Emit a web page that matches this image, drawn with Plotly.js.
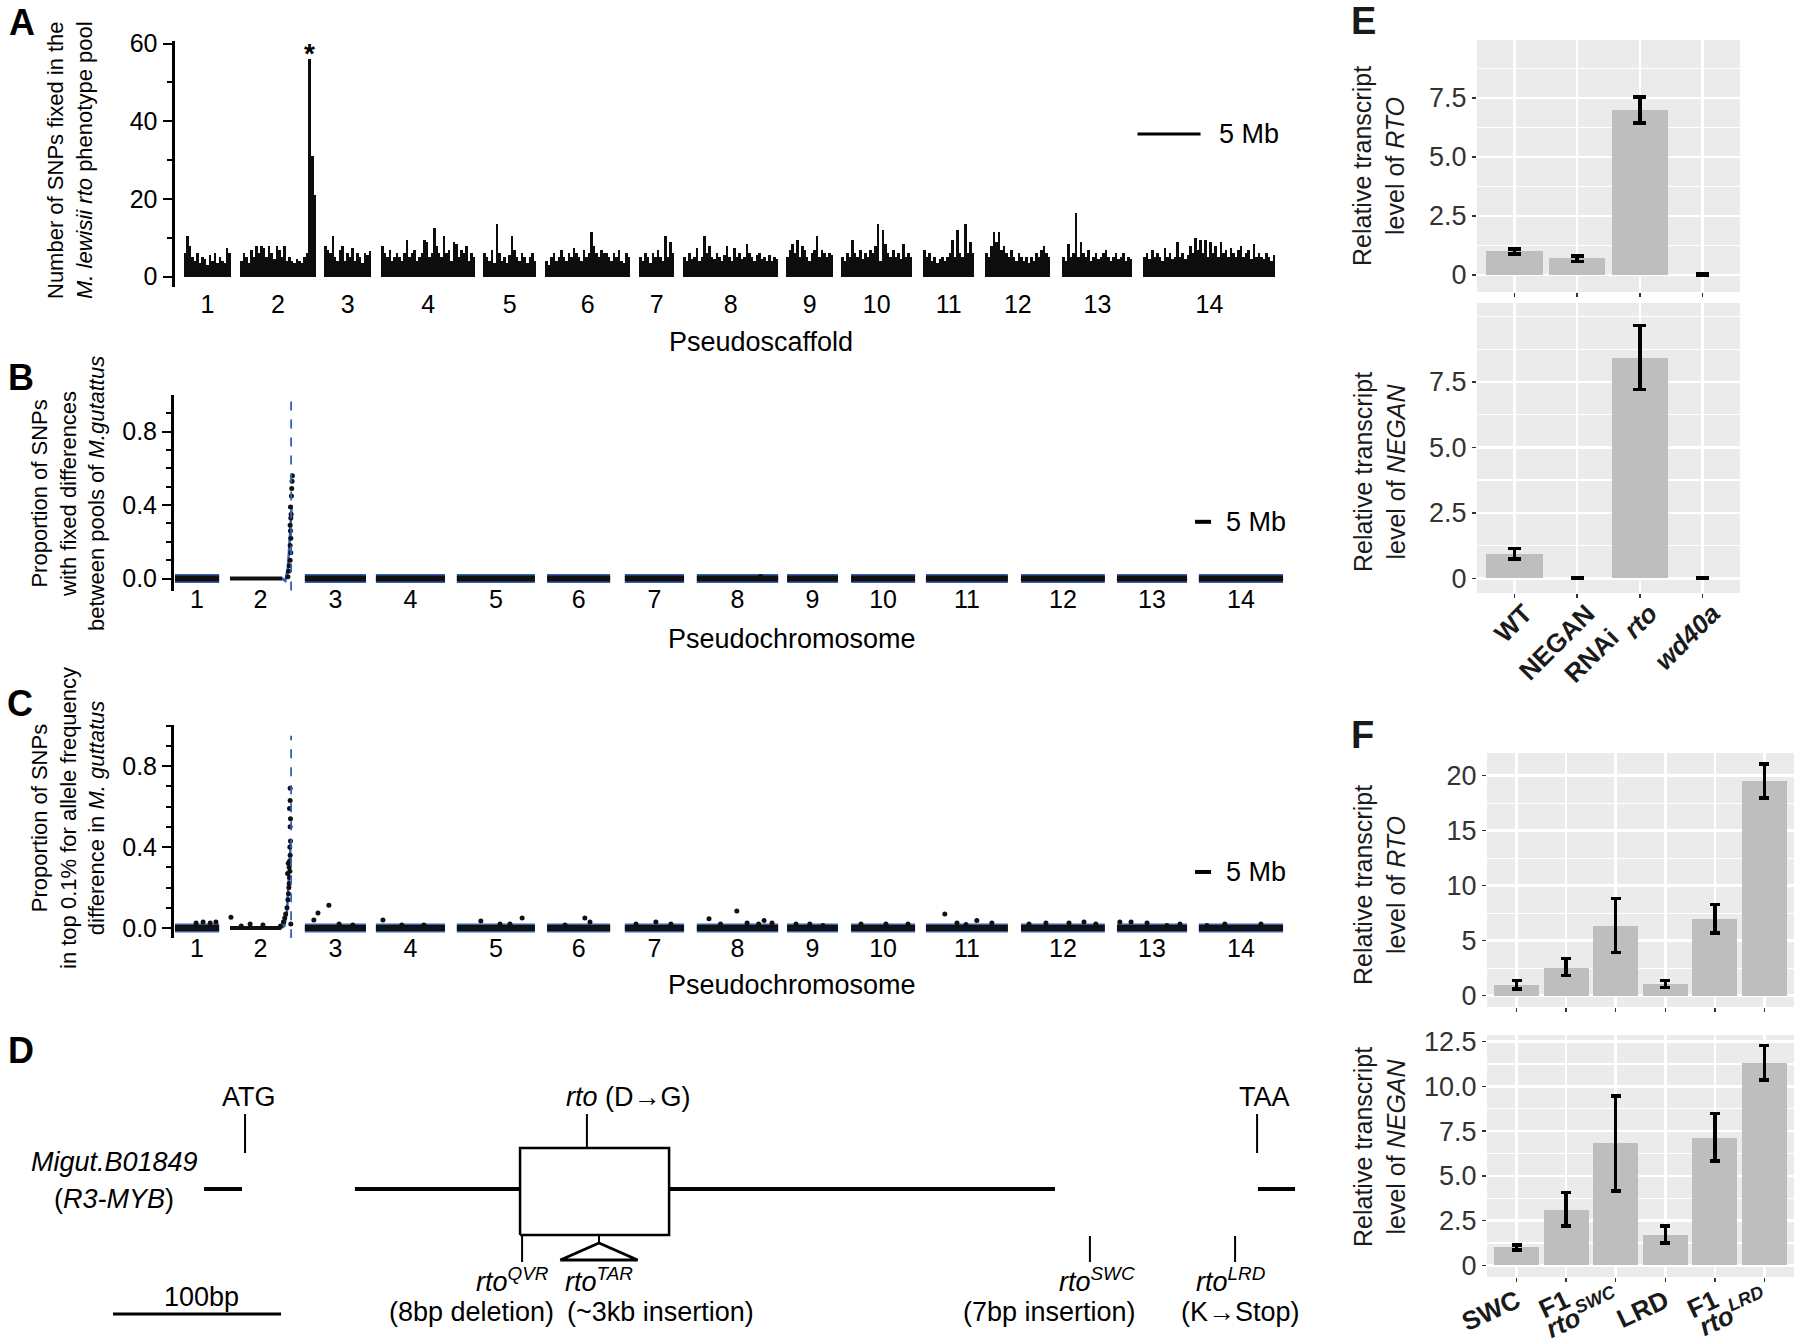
<!DOCTYPE html>
<html><head><meta charset="utf-8">
<script src="https://cdn.plot.ly/plotly-3.0.1.min.js"></script>
<style>html,body{margin:0;padding:0;background:#fff}#fig{width:1800px;height:1343px}</style>
</head><body><div id="fig"></div>
<script>
// ================= DATA =================
// ---- Panel A: SNPs fixed per window, by pseudoscaffold (x in Mb) ----
const chromLabels = ['1','2','3','4','5','6','7','8','9','10','11','12','13','14'];
const chromStartA = [0.75, 5.20, 11.87, 16.39, 24.48, 29.40, 36.87, 40.36, 48.53, 52.90, 59.40, 64.33, 70.44, 76.87];
const chromEndA   = [4.48, 11.23, 15.60, 23.85, 28.69, 36.15, 39.64, 47.90, 52.26, 58.53, 63.45, 69.48, 76.00, 87.34];
const snpChr1  = [6, 10.5, 8, 5, 4, 6, 3.5, 5, 4.5, 3, 5.5, 4, 6, 3.5, 5, 4, 3.5, 7.5, 6];
const snpChr2  = [4, 6, 5, 3.5, 7, 5, 8, 6, 8, 7.5, 5, 8, 6, 4.5, 8, 7, 5, 8, 4, 5, 4, 3.5, 4.5, 4, 3.5, 5, 6, 56, 31, 21];
const snpChr3  = [8, 7, 6, 10.5, 5, 4, 7, 8, 4, 6, 5, 7.5, 4, 6, 5, 3.5, 6, 5.5, 6.5];
const snpChr4  = [8, 6, 5, 7, 4, 5, 6, 5, 4, 6, 9.5, 5, 6, 7, 4, 5, 6, 9.5, 9, 5, 6, 12.5, 8, 6, 5, 10.5, 6, 7, 4, 9, 8.5, 5, 7, 6, 8, 4, 6, 5];
const snpChr5  = [6, 5, 4, 7, 3.5, 13.5, 6, 4, 5, 3.5, 5.5, 10.5, 7, 5, 4, 6, 5, 3.5, 5, 6, 4];
const snpChr6  = [4, 3, 5, 6, 4, 5, 7, 5, 4, 6, 5, 7.5, 6, 5, 4, 7, 5, 6, 11.5, 8, 6, 5, 7, 6, 6, 5, 4, 6, 5, 7, 4, 3.5, 6, 5];
const snpChr7  = [5, 4, 6, 5, 3.5, 6, 5, 7, 5, 4, 10.5, 5, 9, 6];
const snpChr8  = [5, 4, 6, 4.5, 5, 7.5, 4, 5, 10.5, 6, 8, 5, 4.5, 6, 5, 4, 5.5, 8, 5, 4, 7.5, 5, 6, 4.5, 5, 8.5, 6, 5, 4, 5.5, 6, 4.5, 5, 4, 5.5, 4, 5, 4.5];
const snpChr9  = [5, 7, 8.5, 6, 9.5, 5, 8, 7, 5, 4, 6, 7, 10.5, 5, 7, 6, 5, 6, 5.5];
const snpChr10 = [5, 4, 6, 5, 9.5, 6, 5, 7, 4.5, 6, 5, 7, 6, 8, 13.5, 4, 12, 8.5, 6, 5, 7, 5, 6, 4.5, 8.5, 5, 6, 5];
const snpChr11 = [7, 5, 6, 4, 5, 3.5, 4.5, 5, 4, 5, 6, 9.5, 5, 12, 6, 5, 13.5, 6, 9, 6];
const snpChr12 = [6, 5, 8, 11.5, 9, 11.5, 7, 8, 6, 5, 7, 5, 4, 6, 5, 4, 5, 3.5, 5, 4, 6, 5, 7, 8, 6, 5];
const snpChr13 = [5, 4, 8.5, 5, 6, 16.5, 5, 9, 6, 5, 7, 4, 5, 6, 4.5, 5, 6, 7, 5, 4, 5, 6, 4.5, 5, 6, 4, 5, 4.5];
const snpChr14 = [5, 6, 4.5, 7, 5, 6, 5, 4, 7.5, 5, 6, 4.5, 5, 9, 5, 6, 4.5, 5.5, 8, 6, 10, 7, 9.5, 6, 9.5, 5, 9, 6, 8, 5, 9, 6, 7, 5, 7.5, 6, 5, 7, 8, 5, 6, 7, 4.5, 8.5, 5, 6, 5, 4.5, 6, 5, 4, 5.5];

// ---- Panels B & C: pseudochromosome extents (Mb) ----
const chromStartBC = [0.3, 17.5, 40.9, 63.1, 88.4, 116.6, 140.9, 163.4, 191.6, 211.6, 235.0, 264.7, 294.7, 320.3];
const chromEndBC   = [14.1, 36.6, 60.0, 84.7, 112.8, 136.3, 159.4, 188.8, 207.5, 231.6, 260.6, 290.9, 316.6, 346.6];
const rtoLocusMb = 36.6;
// Panel B: non-zero window proportions
const bPtsX = [35.6, 35.8, 36.0, 36.3, 36.5, 36.3, 36.5, 36.4, 36.3, 36.5, 36.6, 36.4, 36.7, 36.8, 36.9, 37.0, 183.3];
const bPtsY = [0.01, 0.04, 0.07, 0.10, 0.14, 0.18, 0.22, 0.26, 0.29, 0.33, 0.35, 0.39, 0.45, 0.49, 0.53, 0.56, 0.012];
const bFitChr2X = [17.5, 33.8, 34.8, 35.6, 36.2, 36.8];
const bFitChr2Y = [0, 0, -0.012, 0.06, 0.22, 0.40];
// Panel C: non-zero window proportions
const cPtsX = [6.9, 9.1, 11.3, 13.1, 17.8, 21.0, 23.8, 27.8,
  33.3, 34.2, 34.6, 34.9, 35.3, 35.6, 35.8, 35.9, 36.0, 36.1, 36.2, 36.0, 36.1, 36.3, 36.2, 36.4, 36.3, 36.4, 36.1, 36.3, 36.3, 36.5, 35.5, 35.7,
  43.7, 45.0, 48.4, 51.6, 55.9, 65.3, 71.2, 78.1, 95.9, 101.9, 105.0, 108.8, 122.2, 128.4, 130.0, 144.4, 150.6, 155.3,
  167.2, 170.8, 175.9, 179.1, 182.7, 184.4, 186.9, 194.4, 198.7, 202.8, 214.7, 222.5, 229.4,
  240.9, 244.7, 247.5, 250.9, 255.6, 267.2, 272.5, 279.7, 284.4, 288.1, 295.6, 299.1, 304.1, 310.3, 314.4, 322.8, 328.4, 339.7];
const cPtsY = [0.025, 0.03, 0.025, 0.03, 0.054, 0.01, 0.02, 0.015,
  0.01, 0.03, 0.05, 0.07, 0.10, 0.14, 0.17, 0.20, 0.22, 0.25, 0.28, 0.30, 0.33, 0.36, 0.40, 0.43, 0.50, 0.54, 0.59, 0.63, 0.69, 0.02, 0.27, 0.32,
  0.04, 0.074, 0.113, 0.02, 0.015, 0.04, 0.015, 0.015, 0.035, 0.02, 0.02, 0.05, 0.015, 0.05, 0.03, 0.02, 0.03, 0.02,
  0.046, 0.02, 0.084, 0.025, 0.02, 0.038, 0.025, 0.02, 0.02, 0.013, 0.02, 0.02, 0.02,
  0.07, 0.025, 0.018, 0.038, 0.025, 0.02, 0.025, 0.025, 0.03, 0.02, 0.03, 0.03, 0.025, 0.013, 0.02, 0.013, 0.02, 0.02];
const cFitChr2X = [17.5, 33.5, 34.5, 35.3, 35.9, 36.5];
const cFitChr2Y = [0, 0, 0.01, 0.08, 0.25, 0.43];

// ---- Panel D: gene model of Migut.B01849 (bp) ----
const geneSegStart = [54.2, 144.0, 331.0, 681.5];
const geneSegEnd   = [76.8, 242.3, 560.7, 703.6];
const exonBox = [242.3, 331.0];
const atgPos = 78.6, taaPos = 681.0, dgPos = 282.1;
const mutLabels = ['<i>rto<sup>QVR</sup></i>', '<i>rto<sup>TAR</sup></i>', '<i>rto<sup>SWC</sup></i>', '<i>rto<sup>LRD</sup></i>'];
const mutPos    = [243.5, 289.3, 581.5, 667.9];
const mutNotes  = ['(8bp deletion)', '(~3kb insertion)', '(7bp insertion)', '(K<b>→</b>Stop)'];

// ---- Panel E ----
const catE = ['WT', 'NEGAN<br>RNAi', '<i>rto</i>', '<i>wd40a</i>'];
const rtoE = [1.0, 0.70, 7.0, 0.02];
const rtoELow = [0.90, 0.58, 6.45, 0.0];
const rtoEHigh = [1.10, 0.80, 7.55, 0.04];
const negE = [0.93, 0.02, 8.42, 0.02];
const negELow = [0.74, 0.0, 7.2, 0.0];
const negEHigh = [1.14, 0.04, 9.65, 0.04];

// ---- Panel F ----
const catF = ['SWC', 'F1', '<i>rto<sup>SWC</sup></i>', 'LRD', 'F1', '<i>rto<sup>LRD</sup></i>'];
const rtoF = [1.0, 2.55, 6.36, 1.06, 6.97, 19.5];
const rtoFLow = [0.62, 1.85, 3.94, 0.76, 5.70, 17.95];
const rtoFHigh = [1.36, 3.40, 8.82, 1.36, 8.30, 21.04];
const negF = [1.0, 3.09, 6.82, 1.69, 7.13, 11.28];
const negFLow = [0.85, 2.20, 4.15, 1.26, 5.83, 10.35];
const negFHigh = [1.15, 4.06, 9.47, 2.21, 8.49, 12.27];

// ================= BUILD =================
const FONT = 'Liberation Sans, Arial, Helvetica, sans-serif';
const W = 1800, H = 1343;
const px = x => x / W, py = y => 1 - y / H;
const traces = [];

// Panel A bars
const snpA = [snpChr1, snpChr2, snpChr3, snpChr4, snpChr5, snpChr6, snpChr7, snpChr8, snpChr9, snpChr10, snpChr11, snpChr12, snpChr13, snpChr14];
const barX = [], barY = [], barW = [];
let peakX = 0, peakY = -1;
snpA.forEach((vals, k) => {
  const w = (chromEndA[k] - chromStartA[k]) / vals.length;
  vals.forEach((v, i) => {
    const xc = chromStartA[k] + (i + 0.5) * w;
    barX.push(xc); barY.push(v); barW.push(w);
    if (v > peakY) { peakY = v; peakX = xc; }
  });
});
const centersA = chromStartA.map((s, k) => (s + chromEndA[k]) / 2);
traces.push({type: 'bar', x: barX, y: barY, width: barW, xaxis: 'x', yaxis: 'y',
  marker: {color: '#0d0d0d', line: {width: 0}}, hoverinfo: 'skip'});
traces.push({type: 'scatter', mode: 'lines', x: [76.4, 81.4], y: [36.7, 36.7], xaxis: 'x', yaxis: 'y',
  line: {color: '#000', width: 3}, hoverinfo: 'skip'});

// Panels B and C
const centersBC = chromStartBC.map((s, k) => (s + chromEndBC[k]) / 2);
function bandXY(skip) {
  const x = [], y = [];
  chromStartBC.forEach((s, k) => { if (k === skip) return; x.push(s, chromEndBC[k], null); y.push(0, 0, null); });
  return {x, y};
}
const BLUE = '#3560b8';
function addBC(xa, ya, fitX, fitY, ptsX, ptsY, dashTop, dashBot, scaleY) {
  const band = bandXY(1);
  traces.push({type: 'scatter', mode: 'lines', x: band.x, y: band.y, xaxis: xa, yaxis: ya, line: {color: BLUE, width: 9}, hoverinfo: 'skip'});
  traces.push({type: 'scatter', mode: 'lines', x: band.x, y: band.y, xaxis: xa, yaxis: ya, line: {color: '#111', width: 6}, hoverinfo: 'skip'});
  traces.push({type: 'scatter', mode: 'lines', x: fitX, y: fitY, xaxis: xa, yaxis: ya, line: {color: BLUE, width: 2.5}, hoverinfo: 'skip'});
  traces.push({type: 'scatter', mode: 'lines', x: [chromStartBC[1], fitX[1]], y: [0, 0], xaxis: xa, yaxis: ya, line: {color: '#111', width: 4}, hoverinfo: 'skip'});
  traces.push({type: 'scatter', mode: 'markers', x: ptsX, y: ptsY, xaxis: xa, yaxis: ya, marker: {color: '#111', size: 5}, hoverinfo: 'skip'});
  traces.push({type: 'scatter', mode: 'lines', x: [rtoLocusMb, rtoLocusMb], y: [dashBot, dashTop], xaxis: xa, yaxis: ya, line: {color: BLUE, width: 1.8, dash: 'dash'}, hoverinfo: 'skip'});
  traces.push({type: 'scatter', mode: 'lines', x: [319.1, 324.1], y: [scaleY, scaleY], xaxis: xa, yaxis: ya, line: {color: '#000', width: 4}, hoverinfo: 'skip'});
}
addBC('x2', 'y2', bFitChr2X, bFitChr2Y, bPtsX, bPtsY, 1.0, -0.065, 0.309);
addBC('x3', 'y3', cFitChr2X, cFitChr2Y, cPtsX, cPtsY, 0.95, -0.05, 0.277);

// Panel D gene model
const BOX_TOP = 41, BOX_BOT = -46;
const segX = [], segY = [];
geneSegStart.forEach((s, k) => { segX.push(s, geneSegEnd[k], null); segY.push(0, 0, null); });
const dLine = (x, y, w) => traces.push({type: 'scatter', mode: 'lines', x, y, xaxis: 'x8', yaxis: 'y8', line: {color: '#000', width: w}, hoverinfo: 'skip'});
dLine(segX, segY, 4);
traces.push({type: 'scatter', mode: 'lines', x: [exonBox[0], exonBox[1], exonBox[1], exonBox[0], exonBox[0]], y: [BOX_BOT, BOX_BOT, BOX_TOP, BOX_TOP, BOX_BOT],
  fill: 'toself', fillcolor: '#fff', xaxis: 'x8', yaxis: 'y8', line: {color: '#000', width: 2.5}, hoverinfo: 'skip'});
dLine([atgPos, atgPos], [36, 75], 2);
dLine([taaPos, taaPos], [36, 75], 2);
dLine([dgPos, dgPos], [BOX_TOP, 75], 2);
[0, 2, 3].forEach(k => dLine([mutPos[k], mutPos[k]], [k === 0 ? BOX_BOT : -47, -73], 2));
dLine([mutPos[1], mutPos[1]], [BOX_BOT, -54], 2);
traces.push({type: 'scatter', mode: 'lines', x: [mutPos[1], mutPos[1] - 23, mutPos[1] + 23, mutPos[1]], y: [-54, -71, -71, -54],
  fill: 'toself', fillcolor: '#fff', xaxis: 'x8', yaxis: 'y8', line: {color: '#000', width: 3}, hoverinfo: 'skip'});
dLine([0, 100], [-125, -125], 3);

// Panels E and F bars
function addBars(xa, ya, vals, lo, hi, cap) {
  traces.push({type: 'bar', x: vals.map((v, i) => i), y: vals, width: 0.9, xaxis: xa, yaxis: ya,
    marker: {color: '#bebebe', line: {width: 0}},
    error_y: {type: 'data', symmetric: false, array: hi.map((h, i) => h - vals[i]), arrayminus: lo.map((l, i) => vals[i] - l),
      color: '#000', thickness: 3.5, width: cap}, hoverinfo: 'skip'});
}
addBars('x4', 'y4', rtoE, rtoELow, rtoEHigh, 6.5);
addBars('x5', 'y5', negE, negELow, negEHigh, 6.5);
addBars('x6', 'y6', rtoF, rtoFLow, rtoFHigh, 5);
addBars('x7', 'y7', negF, negFLow, negFHigh, 5);

// ================= LAYOUT =================
const tf = {family: FONT, size: 25, color: '#000'};
function chromX(domain, range, anchor, centers, standoff) {
  return {domain, range, anchor, tickmode: 'array', tickvals: centers, ticktext: chromLabels, ticks: '',
    showline: false, showgrid: false, zeroline: false, tickfont: tf, fixedrange: true, ticklabelstandoff: standoff};
}
function leftY(domain, range, anchor, tv, tt, minorDt) {
  return {domain, range, anchor, tickmode: 'array', tickvals: tv, ticktext: tt, ticks: 'outside', ticklen: 9, tickwidth: 2,
    tickcolor: '#000', showline: true, linecolor: '#000', linewidth: 3, showgrid: false, zeroline: false, tickfont: tf,
    minor: {tickmode: 'linear', tick0: 0, dtick: minorDt, ticks: 'outside', ticklen: 5, tickwidth: 2, tickcolor: '#000'}, fixedrange: true};
}
const ggTick = {family: FONT, size: 27, color: '#333'};
function ggX(domain, range, anchor, labels, showLabels, angle, standoff, shift) {
  const ax = {domain, range, anchor, tickmode: 'array', tickvals: labels.map((l, i) => i), ticktext: labels,
    ticks: 'outside', ticklen: 4, tickwidth: 1.5, tickcolor: '#333', showticklabels: showLabels,
    showgrid: true, gridcolor: '#fff', gridwidth: 2.5, zeroline: false, showline: false, fixedrange: true,
    tickfont: {family: FONT, size: 26, color: '#1a1a1a', weight: 'bold'}};
  if (angle !== undefined) ax.tickangle = angle;
  if (standoff !== undefined) ax.ticklabelstandoff = standoff;
  if (shift !== undefined) ax.ticklabelshift = shift;
  return ax;
}
function ggY(domain, range, anchor, tv, tt, minorVals) {
  return {domain, range, anchor, tickmode: 'array', tickvals: tv, ticktext: tt, ticks: 'outside', ticklen: 4, tickwidth: 1.5,
    tickcolor: '#333', tickfont: ggTick, showgrid: true, gridcolor: '#fff', gridwidth: 2.5, zeroline: false, showline: false,
    minor: {tickmode: 'array', tickvals: minorVals, showgrid: true, gridcolor: '#fff', gridwidth: 1.2, ticks: ''}, fixedrange: true};
}

const annotations = [];
const paperAnn = (text, x, y, size, opts) => annotations.push(Object.assign({text, xref: 'paper', yref: 'paper', x: px(x), y: py(y),
  xanchor: 'center', yanchor: 'middle', showarrow: false, font: {family: FONT, size, color: '#000'}}, opts || {}));
// Panel letters
paperAnn('<b>A</b>', 22, 22, 36);
paperAnn('<b>B</b>', 21, 377, 36);
paperAnn('<b>C</b>', 20, 703, 36);
paperAnn('<b>D</b>', 21, 1050, 36);
paperAnn('<b>E</b>', 1363, 21, 38, {font: {family: FONT, size: 38, color: '#1a1a1a'}});
paperAnn('<b>F</b>', 1362, 735, 38, {font: {family: FONT, size: 38, color: '#1a1a1a'}});
// Axis titles A-C
paperAnn('Number of SNPs fixed in the<br><i>M. lewisii rto</i> phenotype pool', 70, 160, 22, {textangle: -90});
paperAnn('Proportion of SNPs<br>with fixed differences<br>between pools of <i>M.gutattus</i>', 68, 494, 22, {textangle: -90});
paperAnn('Proportion of SNPs<br>in top 0.1% for allele frequency<br>difference in <i>M. guttatus</i>', 68, 818, 22, {textangle: -90});
paperAnn('Pseudoscaffold', 761, 342, 27);
paperAnn('Pseudochromosome', 792, 639, 27);
paperAnn('Pseudochromosome', 792, 985, 27);
// Axis titles E-F
const ggT = {font: {family: FONT, size: 25, color: '#1a1a1a'}, textangle: -90};
paperAnn('Relative transcript<br>level of <i>RTO</i>', 1379, 166, 25, ggT);
paperAnn('Relative transcript<br>level of <i>NEGAN</i>', 1379, 472, 25, ggT);
paperAnn('Relative transcript<br>level of <i>RTO</i>', 1379, 885, 25, ggT);
paperAnn('Relative transcript<br>level of <i>NEGAN</i>', 1379, 1147, 25, ggT);
// Scale-bar labels and asterisk
const dataAnn = (text, xr, yr, x, y, size, opts) => annotations.push(Object.assign({text, xref: xr, yref: yr, x, y,
  xanchor: 'center', yanchor: 'middle', showarrow: false, font: {family: FONT, size, color: '#000'}}, opts || {}));
dataAnn('5 Mb', 'x', 'y', 81.4, 36.7, 27, {xanchor: 'left', xshift: 16});
dataAnn('5 Mb', 'x2', 'y2', 324.1, 0.309, 27, {xanchor: 'left', xshift: 13});
dataAnn('5 Mb', 'x3', 'y3', 324.1, 0.277, 27, {xanchor: 'left', xshift: 13});
dataAnn('<b>*</b>', 'x', 'y', peakX, peakY, 28, {yanchor: 'bottom', yshift: -12});
// Panel D labels
dataAnn('ATG', 'x8', 'y8', atgPos, 92, 27, {xshift: 4});
dataAnn('TAA', 'x8', 'y8', taaPos, 92, 27, {xshift: 7});
dataAnn('<i>rto</i> (D<b>→</b>G)', 'x8', 'y8', dgPos, 92, 27, {xshift: 42});
dataAnn('<i>Migut.B01849</i>', 'x8', 'y8', geneSegStart[0], 27, 27, {xshift: -90});
dataAnn('(<i>R3-MYB</i>)', 'x8', 'y8', geneSegStart[0], -10, 27, {xshift: -90});
const mutLabShift = [-10, 0, 7, -4];
const mutNoteShift = [-51, 61, -40, 5];
mutLabels.forEach((t, k) => dataAnn(t, 'x8', 'y8', mutPos[k], -91, 27, {xshift: mutLabShift[k]}));
mutNotes.forEach((t, k) => dataAnn(t, 'x8', 'y8', mutPos[k], -123, 27, {xshift: mutNoteShift[k]}));
dataAnn('100bp', 'x8', 'y8', 50, -108, 27, {xshift: 4});

// ggplot panel backgrounds
const shapes = ['4', '5', '6', '7'].map(n => ({type: 'rect', xref: 'x' + n + ' domain', yref: 'y' + n + ' domain', x0: 0, x1: 1, y0: 0, y1: 1,
  fillcolor: '#ebebeb', line: {width: 0}, layer: 'below'}));

const layout = {
  width: W, height: H, margin: {l: 0, r: 0, t: 0, b: 0}, paper_bgcolor: '#fff', plot_bgcolor: 'rgba(0,0,0,0)',
  showlegend: false, font: {family: FONT, color: '#000'}, bargap: 0,
  xaxis: chromX([px(174.5), px(1290)], [0, 88.5], 'y', centersA, 0),
  yaxis: leftY([py(287), py(41)], [-2.65, 60.67], 'x', [0, 20, 40, 60], ['0', '20', '40', '60'], 10),
  xaxis2: chromX([px(174), px(1300)], [0, 351.9], 'y2', centersBC, -9),
  yaxis2: leftY([py(591), py(395)], [-0.0675, 0.9992], 'x2', [0, 0.4, 0.8], ['0.0', '0.4', '0.8'], 0.1),
  xaxis3: chromX([px(174), px(1300)], [0, 351.9], 'y3', centersBC, -7),
  yaxis3: leftY([py(938), py(725)], [-0.049, 1.0025], 'x3', [0, 0.4, 0.8], ['0.0', '0.4', '0.8'], 0.1),
  xaxis4: ggX([px(1477), px(1740)], [-0.6, 3.6], 'y4', catE, false),
  yaxis4: ggY([py(292), py(40)], [-0.72, 9.96], 'x4', [0, 2.5, 5, 7.5], ['0', '2.5', '5.0', '7.5'], [1.25, 3.75, 6.25, 8.75]),
  xaxis5: ggX([px(1477), px(1740)], [-0.6, 3.6], 'y5', catE, true, -45, -10, 10),
  yaxis5: ggY([py(593), py(303)], [-0.56, 10.51], 'x5', [0, 2.5, 5, 7.5], ['0', '2.5', '5.0', '7.5'], [1.25, 3.75, 6.25, 8.75, 10]),
  xaxis6: ggX([px(1487), px(1794)], [-0.6, 5.6], 'y6', catF, false),
  yaxis6: ggY([py(1007), py(753)], [-1.03, 22.06], 'x6', [0, 5, 10, 15, 20], ['0', '5', '10', '15', '20'], [2.5, 7.5, 12.5, 17.5]),
  xaxis7: ggX([px(1487), px(1794)], [-0.6, 5.6], 'y7', catF, true, -25, -6),
  yaxis7: ggY([py(1277), py(1035)], [-0.65, 12.87], 'x7', [0, 2.5, 5, 7.5, 10, 12.5], ['0', '2.5', '5.0', '7.5', '10.0', '12.5'], [1.25, 3.75, 6.25, 8.75, 11.25]),
  xaxis8: {domain: [0, px(1300)], range: [-67.26, 706.55], anchor: 'y8', visible: false, fixedrange: true},
  yaxis8: {domain: [0, py(1040)], range: [-154, 149], anchor: 'x8', visible: false, fixedrange: true},
  annotations, shapes
};

Plotly.newPlot('fig', traces, layout, {staticPlot: true, displayModeBar: false});
</script>
</body></html>
